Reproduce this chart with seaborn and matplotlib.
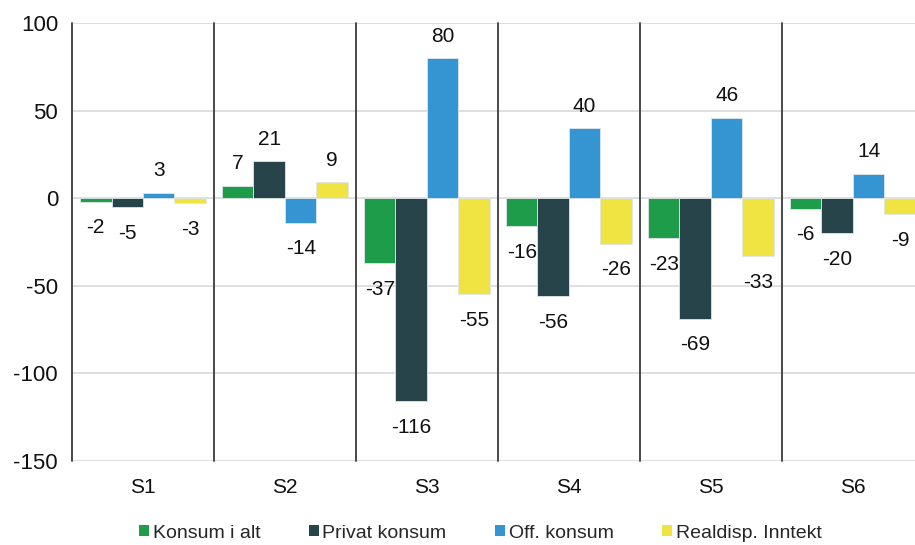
import matplotlib
matplotlib.use("Agg")
import matplotlib.pyplot as plt
import seaborn as sns
import pandas as pd
from matplotlib.patches import Patch

scenarios = ["S1", "S2", "S3", "S4", "S5", "S6"]
series = ["Konsum i alt", "Privat konsum", "Off. konsum", "Realdisp. Inntekt"]
konsum_i_alt = [-2, 7, -37, -16, -23, -6]
privat_konsum = [-5, 21, -116, -56, -69, -20]
off_konsum = [3, -14, 80, 40, 46, 14]
realdisp_inntekt = [-3, 9, -55, -26, -33, -9]
colors = ["#1e9c4a", "#27444a", "#3595d3", "#f0e442"]
y_ticks = [100, 50, 0, -50, -100, -150]

values = [konsum_i_alt, privat_konsum, off_konsum, realdisp_inntekt]
df = pd.DataFrame(
    [(s, name, v) for name, vals in zip(series, values) for s, v in zip(scenarios, vals)],
    columns=["scenario", "serie", "verdi"],
)

sns.set_theme(style="white")
plt.rcParams["font.family"] = ["Liberation Sans", "DejaVu Sans"]
plt.rcParams["axes.unicode_minus"] = False

fig = plt.figure(figsize=(9.15, 5.45), dpi=100)
ax = fig.add_axes([0.0787, 0.155, 0.931, 0.8025])

sns.barplot(
    data=df, x="scenario", y="verdi", hue="serie", order=scenarios,
    hue_order=series, palette=colors, width=0.887, saturation=1,
    edgecolor="#dfe6ea", linewidth=0.6, ax=ax, legend=False,
)

# value labels: positives above the bar, negatives below it
for cont, vals in zip(ax.containers, values):
    pos = [f"{v:d}" if v > 0 else "" for v in vals]
    neg = [f"{v:d}" if v < 0 else "" for v in vals]
    ax.bar_label(cont, labels=pos, padding=9, fontsize=15, color="#111111")
    ax.bar_label(cont, labels=neg, padding=12, fontsize=15, color="#111111")

ax.set_ylim(-150, 100)
ax.set_xlim(-0.5, len(scenarios) - 0.5)
ax.set_yticks(y_ticks)
ax.yaxis.grid(True, color="#d9d9d9", linewidth=1.2)
ax.set_axisbelow(True)
for x in range(len(scenarios)):
    ax.axvline(x - 0.5, color="#3a3a3a", linewidth=1.3, zorder=3, clip_on=False)
for side in ["top", "right", "bottom", "left"]:
    ax.spines[side].set_visible(False)
ax.set_xlabel("")
ax.set_ylabel("")
ax.tick_params(axis="y", labelsize=16, length=0, pad=10, colors="#111111")
ax.tick_params(axis="x", labelsize=15, length=0, pad=12.5, colors="#111111")

handles = [Patch(facecolor=c, edgecolor="none") for c in colors]
fig.legend(
    handles, series, loc="center", bbox_to_anchor=(0.525, 0.022), ncol=4,
    frameon=False, fontsize=14, handlelength=0.5, handleheight=0.5,
    handletextpad=0.2, columnspacing=2.5,
)

fig.savefig("out.png", dpi=100)
